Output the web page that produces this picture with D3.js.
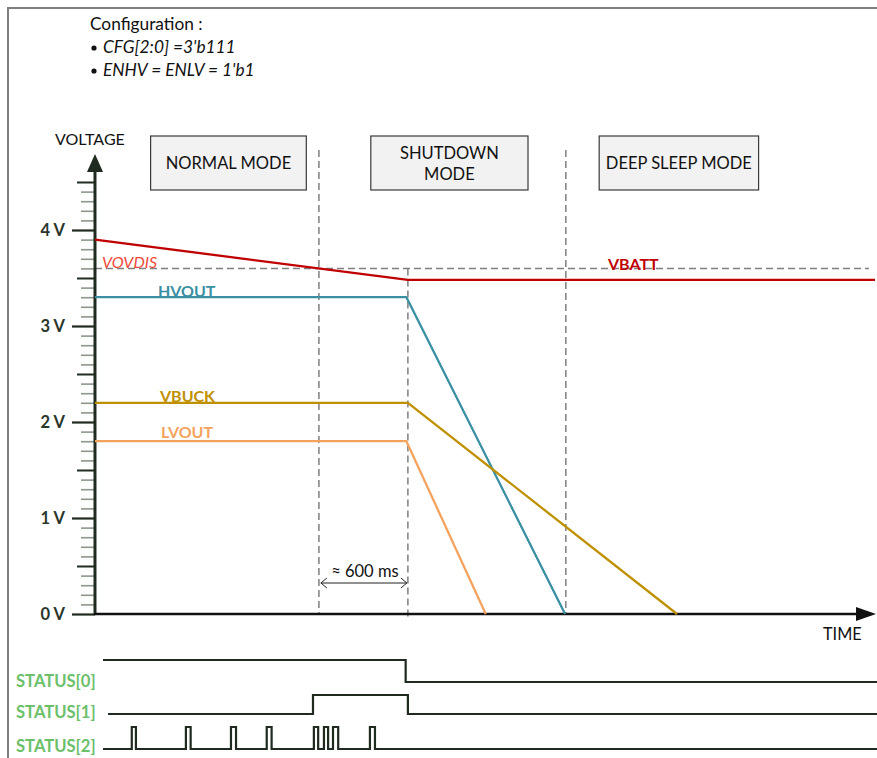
<!DOCTYPE html>
<html>
<head>
<meta charset="utf-8">
<script src="https://cdn.jsdelivr.net/npm/d3@7"></script>
<style>
  html, body { margin: 0; padding: 0; background: #fff; }
  svg { display: block; font-family: Lato, "Open Sans", sans-serif; }
</style>
</head>
<body>
<svg id="chart" width="877" height="758"></svg>
<script>
// ---- Data -------------------------------------------------------------
// time in ms, voltage in V
const configLines = ["CFG[2:0] =3'b111", "ENHV = ENLV = 1'b1"];
const modeNames = [["NORMAL MODE"], ["SHUTDOWN", "MODE"], ["DEEP SLEEP MODE"]];
const modeBoxStart = [375, 1860, 3400];   // left edge of each mode box (ms)
const modeBoxEnd = [1425, 2920, 4475];
const modeBounds = [1510, 3175];         // dashed separators between modes
const shutdownStart = 2110;               // dashed marker at shutdown entry
const vovdisLevel = 3.6;

const vbattT = [0, 2110, 5260];
const vbattV = [3.9, 3.48, 3.48];
const hvoutT = [0, 2100, 3170];
const hvoutV = [3.3, 3.3, 0];
const vbuckT = [0, 2110, 3925];
const vbuckV = [2.2, 2.2, 0];
const lvoutT = [0, 2100, 2635];
const lvoutV = [1.8, 1.8, 0];

const yTickLabels = ["0 V", "1 V", "2 V", "3 V", "4 V"];

const status0T = [54, 2095, 5280];
const status0V = [1, 0, 0];
const status1T = [88, 1470, 2110, 5280];
const status1V = [0, 1, 0, 0];
const status2Start = 54;
const status2End = 5280;
const status2Pulses = [[248, 276], [613, 645], [917, 951], [1158, 1191],
                       [1476, 1505], [1544, 1572], [1605, 1640], [1854, 1888]];
const statusNames = ["STATUS[0]", "STATUS[1]", "STATUS[2]"];

// ---- Layout -----------------------------------------------------------
const svg = d3.select("#chart");
const x = d3.scaleLinear().domain([0, 5260]).range([95, 875]);
const y = d3.scaleLinear().domain([0, 4.5]).range([614, 182]);

const colors = {
  vbatt: "#c00000", hvout: "#3a8fa2", vbuck: "#bf9000", lvout: "#f4a35f",
  vovdis: "#f0483a", axis: "#1e2b1e", minor: "#8b978b", dash: "#7f7f7f",
  status: "#1e2b1e", statusLabel: "#6cc06a"
};

// frame
svg.append("path")
  .attr("d", "M8,758 L8,8 L877,8")
  .attr("fill", "none").attr("stroke", "#7f7f7f").attr("stroke-width", 2);

// configuration note
const cfg = svg.append("g").attr("font-size", 17.3).attr("fill", "#111");
cfg.append("text").attr("x", 90).attr("y", 30).text("Configuration :");
configLines.forEach((t, i) => {
  cfg.append("circle").attr("cx", 94).attr("cy", 48 + i * 23).attr("r", 2.6).attr("fill", "#111");
  cfg.append("text").attr("x", 103).attr("y", 53 + i * 23)
    .attr("font-style", "italic").text(t);
});

// dashed guides
const dashG = svg.append("g").attr("stroke", colors.dash).attr("stroke-width", 1.5)
  .attr("stroke-dasharray", "7,4").attr("fill", "none");
modeBounds.forEach(t => {
  dashG.append("line").attr("x1", x(t)).attr("x2", x(t)).attr("y1", 150).attr("y2", 614);
});
dashG.append("line").attr("x1", 95).attr("x2", x(5220))
  .attr("y1", y(vovdisLevel)).attr("y2", y(vovdisLevel));
dashG.append("line").attr("x1", x(shutdownStart)).attr("x2", x(shutdownStart))
  .attr("y1", y(vovdisLevel)).attr("y2", 620);

// mode boxes
modeNames.forEach((lines, i) => {
  const x0 = x(modeBoxStart[i]), x1 = x(modeBoxEnd[i]);
  svg.append("rect").attr("x", x0).attr("y", 136).attr("width", x1 - x0).attr("height", 54)
    .attr("fill", "#f2f2f2").attr("stroke", "#3a3a3a").attr("stroke-width", 1.2);
  lines.forEach((t, j) => {
    svg.append("text").attr("x", (x0 + x1) / 2)
      .attr("y", 163 + (j - (lines.length - 1) / 2) * 21 + 6)
      .attr("text-anchor", "middle").attr("font-size", 16.5).attr("fill", "#111").text(t);
  });
});

// y axis ticks: minor (0.1 V), half (0.5 V), integer with labels
const allTicks = d3.range(0, 46).map(i => i / 10);
const minorTicks = allTicks.filter(v => Math.round(v * 10) % 5 !== 0);
const halfTicks = allTicks.filter(v => Math.round(v * 10) % 10 === 5);
const intTicks = [0, 1, 2, 3, 4];

svg.append("g").attr("transform", "translate(95,0)")
  .call(d3.axisLeft(y).tickValues(minorTicks).tickSize(14).tickFormat(""))
  .call(g => g.select(".domain").remove())
  .call(g => g.selectAll("line").attr("stroke", colors.minor).attr("stroke-width", 1.6));
svg.append("g").attr("transform", "translate(95,0)")
  .call(d3.axisLeft(y).tickValues(halfTicks).tickSize(18).tickFormat(""))
  .call(g => g.select(".domain").remove())
  .call(g => g.selectAll("line").attr("stroke", colors.axis).attr("stroke-width", 2));
svg.append("g").attr("transform", "translate(95,0)")
  .call(d3.axisLeft(y).tickValues(intTicks).tickSize(23).tickPadding(7)
    .tickFormat((d, i) => yTickLabels[i]))
  .call(g => g.select(".domain").remove())
  .call(g => g.selectAll("line").attr("stroke", colors.axis).attr("stroke-width", 2.2))
  .call(g => g.selectAll("text").attr("font-family", "Lato, sans-serif")
    .attr("font-size", 16.5).attr("font-weight", "bold").attr("fill", "#2a362a"));

// axis lines with arrows
svg.append("line").attr("x1", 95).attr("x2", 95).attr("y1", 615).attr("y2", 168)
  .attr("stroke", colors.axis).attr("stroke-width", 3);
svg.append("path").attr("d", "M95,154 L103,172 L87,172 Z").attr("fill", colors.axis);
svg.append("line").attr("x1", 94).attr("x2", 860).attr("y1", 614).attr("y2", 614)
  .attr("stroke", "#111").attr("stroke-width", 2.5);
svg.append("path").attr("d", "M876,614 L856,607 L856,621 Z").attr("fill", "#111");

svg.append("text").attr("x", 55).attr("y", 145).attr("font-size", 16).attr("fill", "#111").text("VOLTAGE");
svg.append("text").attr("x", 823).attr("y", 640).attr("font-size", 16.3).attr("fill", "#111").text("TIME");

// voltage traces
const line = d3.line().x(d => x(d[0])).y(d => y(d[1]));
const traces = [
  [hvoutT, hvoutV, colors.hvout],
  [lvoutT, lvoutV, colors.lvout],
  [vbuckT, vbuckV, colors.vbuck],
  [vbattT, vbattV, colors.vbatt]
];
traces.forEach(([ts, vs, c]) => {
  svg.append("path").datum(d3.zip(ts, vs)).attr("d", line)
    .attr("fill", "none").attr("stroke", c).attr("stroke-width", 2.3)
    .attr("stroke-linejoin", "round");
});

// trace labels
const lbl = (t, xp, yp, c, extra) => {
  const el = svg.append("text").attr("x", xp).attr("y", yp).attr("fill", c)
    .attr("font-size", 16).attr("font-weight", "bold").text(t);
  if (extra) extra(el);
};
lbl("HVOUT", 158, 297, colors.hvout);
lbl("VBUCK", 160, 402, colors.vbuck);
lbl("LVOUT", 161, 438, colors.lvout);
lbl("VBATT", 608, 270, colors.vbatt);
lbl("VOVDIS", 102, 268, colors.vovdis, el => el.attr("font-weight", "normal").attr("font-style", "italic"));

// ≈ 600 ms span annotation
const ay = 583, ax0 = x(modeBounds[0]) + 2, ax1 = x(shutdownStart) - 1;
svg.append("path")
  .attr("d", `M${ax0},${ay} L${ax1},${ay} M${ax0 + 6},${ay - 5} L${ax0},${ay} L${ax0 + 6},${ay + 5} M${ax1 - 6},${ay - 5} L${ax1},${ay} L${ax1 - 6},${ay + 5}`)
  .attr("fill", "none").attr("stroke", "#222").attr("stroke-width", 1);
svg.append("text").attr("x", (ax0 + ax1) / 2 + 1).attr("y", 577).attr("text-anchor", "middle")
  .attr("font-size", 16.5).attr("fill", "#111").text("≈ 600 ms");

// status signals
const statusRows = [
  { hi: 660, lo: 682, label: 687 },
  { hi: 695, lo: 714, label: 718 },
  { hi: 727, lo: 749, label: 752 }
];
const step = (row) => d3.line().x(d => x(d[0])).y(d => d[1] ? row.hi : row.lo).curve(d3.curveStepAfter);

svg.append("path").datum(d3.zip(status0T, status0V)).attr("d", step(statusRows[0]))
  .attr("fill", "none").attr("stroke", colors.status).attr("stroke-width", 2.2);
svg.append("path").datum(d3.zip(status1T, status1V)).attr("d", step(statusRows[1]))
  .attr("fill", "none").attr("stroke", colors.status).attr("stroke-width", 2.2);

const s2 = [[status2Start, 0]];
status2Pulses.forEach(([a, b]) => { s2.push([a, 1]); s2.push([b, 0]); });
s2.push([status2End, 0]);
svg.append("path").datum(s2).attr("d", step(statusRows[2]))
  .attr("fill", "none").attr("stroke", colors.status).attr("stroke-width", 2.2);

statusNames.forEach((n, i) => {
  svg.append("text").attr("x", 16).attr("y", statusRows[i].label).attr("font-size", 16.6)
    .attr("font-weight", "bold").attr("fill", colors.statusLabel).text(n);
});
</script>
</body>
</html>
